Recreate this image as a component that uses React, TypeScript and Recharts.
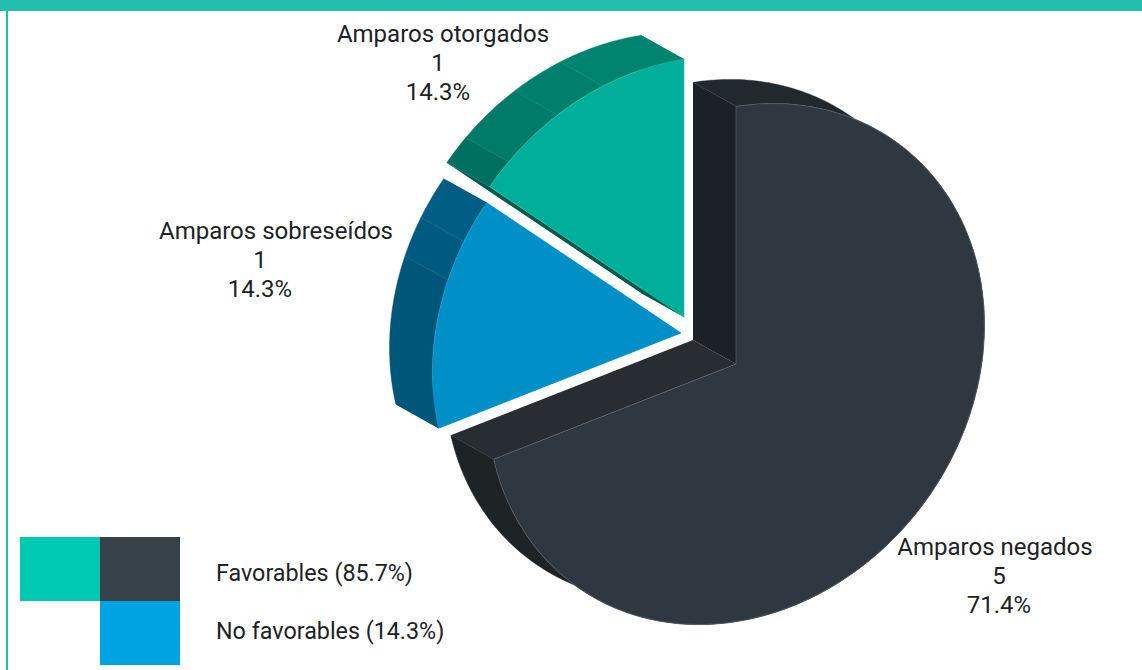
import { PieChart, Pie, Sector } from "recharts";

// Values, in clockwise order from the top of the pie
const sliceNames = ["Amparos negados", "Amparos sobreseídos", "Amparos otorgados"];
const sliceValues = [5, 1, 1];
const legendLabels = ["Favorables (85.7%)", "No favorables (14.3%)"];

const data = sliceNames.map((name, i) => ({ name, value: sliceValues[i] }));

const FONT = "Roboto, sans-serif";
const TEXT = "#1c2226";
const BAND = "#22bfae";

// the pie is a skewed circle, extruded up and to the left
const RADIUS = 248.5;
const SKEW = -0.1563;
const STRETCH = 1.037;
const DEPTH = { x: -43, y: -24 };

const sliceStyles = [
  {
    offset: { x: 0, y: 0 },
    top: "#2f3840",
    edge: "#5b666e",
    sideStart: "#1b2127",
    sideEnd: "#272d32",
    walls: [
      { until: 0.5, color: "#21282e" },
      { until: 1, color: "#1e2326" },
    ],
    label: { x: 995, y: 555, valueX: 999 },
  },
  {
    offset: { x: -55, y: -31 },
    top: "#0090c8",
    edge: "#1a9ccf",
    sideStart: "#005678",
    sideEnd: "#005e84",
    walls: [
      { until: 0.645, color: "#005678" },
      { until: 0.816, color: "#005a7f" },
      { until: 1, color: "#005e84" },
    ],
    label: { x: 276, y: 239, valueX: 260 },
  },
  {
    offset: { x: -52, y: -47 },
    top: "#00af99",
    edge: "#25bba7",
    sideStart: "#00594d",
    sideEnd: "#00836f",
    walls: [
      { until: 0.127, color: "#007060" },
      { until: 0.405, color: "#007a69" },
      { until: 0.63, color: "#007f6d" },
      { until: 1, color: "#00836f" },
    ],
    label: { x: 443, y: 42, valueX: 438 },
  },
];

const project = (angle: number, ox: number, oy: number) => {
  const rad = (angle * Math.PI) / 180;
  const x = RADIUS * Math.cos(rad);
  const y = -RADIUS * Math.sin(rad);
  return { x: ox + x, y: oy + SKEW * x + STRETCH * y };
};

const toPoints = (pts: { x: number; y: number }[]) => pts.map((p) => `${p.x},${p.y}`).join(" ");

const shifted = (p: { x: number; y: number }) => ({ x: p.x + DEPTH.x, y: p.y + DEPTH.y });

const Slice3D = (props: any) => {
  const { cx, cy, startAngle, endAngle } = props;
  const name = props.name ?? props.payload?.name;
  const style = sliceStyles[sliceNames.indexOf(name)];
  const ox = cx + style.offset.x;
  const oy = cy + style.offset.y;
  const centre = { x: ox, y: oy };
  const first = project(startAngle, ox, oy);
  const last = project(endAngle, ox, oy);
  const span = endAngle - startAngle;

  let from = 0;
  const walls = style.walls.map((wall) => {
    const a0 = startAngle + span * from;
    const a1 = startAngle + span * wall.until;
    from = wall.until;
    const steps = Math.max(2, Math.ceil(Math.abs(a1 - a0)));
    const arc = [];
    for (let i = 0; i <= steps; i++) arc.push(project(a0 + ((a1 - a0) * i) / steps, ox, oy));
    const back = arc.map(shifted).reverse();
    return <polygon key={wall.until} points={toPoints([...arc, ...back])} fill={wall.color} stroke={wall.color} strokeWidth={0.4} />;
  });

  return (
    <g>
      <polygon points={toPoints([centre, last, shifted(last), shifted(centre)])} fill={style.sideEnd} />
      <polygon points={toPoints([centre, first, shifted(first), shifted(centre)])} fill={style.sideStart} />
      {walls}
      <g transform={`matrix(1 ${SKEW} 0 ${STRETCH} ${ox} ${oy})`}>
        <Sector
          cx={0}
          cy={0}
          innerRadius={0}
          outerRadius={RADIUS}
          startAngle={startAngle}
          endAngle={endAngle}
          fill={style.top}
          stroke={style.edge}
          strokeWidth={0.6}
        />
      </g>
    </g>
  );
};

const SliceLabel = (props: any) => {
  const style = sliceStyles[sliceNames.indexOf(props.name)];
  const { x, y, valueX } = style.label;
  return (
    <text x={x} textAnchor="middle" fill={TEXT} style={{ fontFamily: FONT, fontSize: 24 }}>
      <tspan x={x} y={y}>{props.name}</tspan>
      <tspan x={valueX} y={y + 29}>{props.value}</tspan>
      <tspan x={valueX} y={y + 58}>{`${(props.percent * 100).toFixed(1)}%`}</tspan>
    </text>
  );
};

const box = (left: number, top: number, width: number, height: number, background: string) => (
  <div style={{ position: "absolute", left, top, width, height, background }} />
);

const legendText = (label: string, top: number) => (
  <div style={{ position: "absolute", left: 216, top, fontFamily: FONT, fontSize: 23.3, color: TEXT, whiteSpace: "nowrap" }}>
    {label}
  </div>
);

export default function App() {
  return (
    <div style={{ position: "absolute", left: 0, top: 0, width: 1142, height: 670, overflow: "hidden", background: "#fff" }}>
      {box(0, 0, 1142, 11, BAND)}
      {box(6, 0, 2, 670, BAND)}

      <PieChart width={1142} height={670} margin={{ top: 0, right: 0, bottom: 0, left: 0 }}>
        <Pie
          data={data}
          dataKey="value"
          nameKey="name"
          cx={736}
          cy={364}
          innerRadius={0}
          outerRadius={RADIUS}
          startAngle={90}
          endAngle={-270}
          shape={Slice3D}
          label={SliceLabel}
          labelLine={false}
          isAnimationActive={false}
        />
      </PieChart>

      {box(20, 537, 80, 64, "#00c9b1")}
      {box(100, 537, 80, 64, "#36414a")}
      {box(100, 601, 80, 64, "#00a3e2")}
      {legendText(legendLabels[0], 559)}
      {legendText(legendLabels[1], 617)}
    </div>
  );
}
